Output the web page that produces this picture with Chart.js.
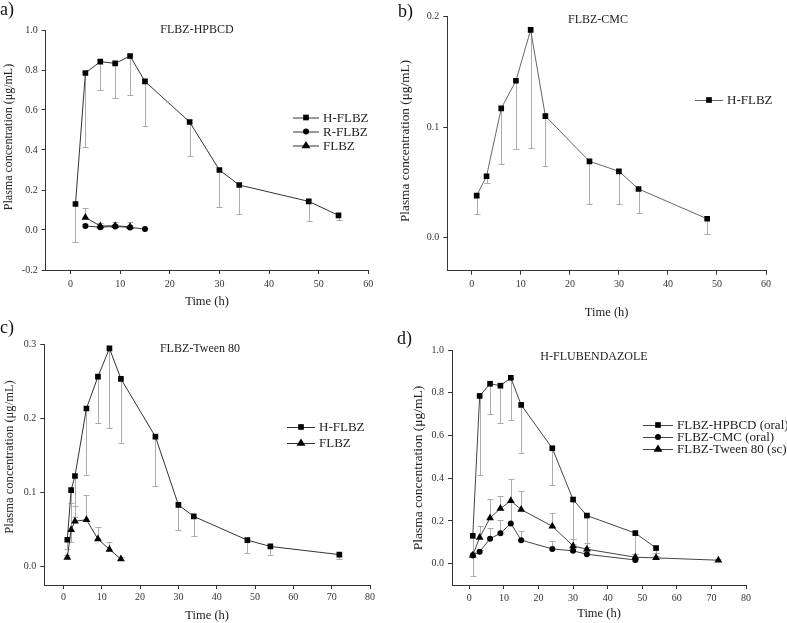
<!DOCTYPE html>
<html>
<head>
<meta charset="utf-8">
<title>Flubendazole plasma concentration</title>
<script src="https://cdn.jsdelivr.net/npm/chart.js@4.4.0/dist/chart.umd.min.js"></script>
<style>
    body { margin: 0; background: #fff; }
    #wrap { position: relative; width: 787px; height: 623px; overflow: hidden; }
    canvas { position: absolute; }
</style>
</head>
<body>
<div id="wrap">
    <canvas id="chart-a" width="393" height="311" style="left:0;top:0"></canvas>
    <canvas id="chart-b" width="394" height="330" style="left:393px;top:0"></canvas>
    <canvas id="chart-c" width="393" height="312" style="left:0;top:311px"></canvas>
    <canvas id="chart-d" width="394" height="312" style="left:393px;top:311px"></canvas>
</div>
<script>
// Tidspunkter og konsentrasjoner (µg/mL), avlest fra figuren
// a) FLBZ-HPBCD
const timesA_H = [1, 3, 6, 9, 12, 15, 24, 30, 34, 48, 54];
const hFlbzA = [0.13, 0.785, 0.842, 0.833, 0.87, 0.743, 0.54, 0.30, 0.225, 0.143, 0.073];
const hFlbzA_sd = [0.19, 0.37, 0.142, 0.173, 0.197, 0.223, 0.17, 0.187, 0.145, 0.098, 0.023];
const timesA_R = [3, 6, 9, 12, 15];
const rFlbzA = [0.02, 0.014, 0.018, 0.013, 0.005];
const rFlbzA_sd = [0.008, 0.01, 0.012, 0.01, 0.003];
const timesA_F = [3, 6, 9, 12];
const flbzA = [0.063, 0.02, 0.021, 0.016];
const flbzA_sd = [0.047, 0.013, 0.021, 0.022];

// b) FLBZ-CMC
const timesB = [1, 3, 6, 9, 12, 15, 24, 30, 34, 48];
const hFlbzB = [0.038, 0.0555, 0.117, 0.142, 0.188, 0.110, 0.069, 0.060, 0.044, 0.017];
const hFlbzB_sd = [0.017, 0.006, 0.05, 0.062, 0.107, 0.045, 0.039, 0.03, 0.022, 0.014];

// c) FLBZ-Tween 80
const timesC_H = [1, 2, 3, 6, 9, 12, 15, 24, 30, 34, 48, 54, 72];
const hFlbzC = [0.036, 0.103, 0.122, 0.213, 0.256, 0.294, 0.253, 0.175, 0.083, 0.0675, 0.0355, 0.027, 0.016];
const hFlbzC_sd = [0.013, 0.07, 0.055, 0.089, 0.062, 0.107, 0.086, 0.067, 0.034, 0.027, 0.017, 0.011, 0.006];
const timesC_F = [1, 2, 3, 6, 9, 12, 15];
const flbzC = [0.012, 0.0495, 0.061, 0.063, 0.037, 0.023, 0.01];
const flbzC_sd = [0.004, 0.036, 0.02, 0.034, 0.016, 0.01, 0.003];

// d) H-FLUBENDAZOLE (Tween uten 2 h-punktet)
const timesD_T = [1, 3, 6, 9, 12, 15, 24, 30, 34, 48, 54, 72];
const tweenD = [0.039, 0.122, 0.214, 0.258, 0.294, 0.253, 0.175, 0.083, 0.0675, 0.03, 0.027, 0.016];
const tweenD_sd = [0.013, 0.055, 0.087, 0.06, 0.104, 0.085, 0.064, 0.034, 0.027, 0.017, 0.011, 0.006];

// Akseinndeling
const xTicks60 = [0, 10, 20, 30, 40, 50, 60];
const xTicks80 = [0, 10, 20, 30, 40, 50, 60, 70, 80];
const yTicksA = [-0.2, 0, 0.2, 0.4, 0.6, 0.8, 1.0];
const yTicksB = [0, 0.1, 0.2];
const yTicksC = [0, 0.1, 0.2, 0.3];
const yTicksD = [0, 0.2, 0.4, 0.6, 0.8, 1.0];

const SERIF = "'Liberation Serif', 'Times New Roman', serif";
const Y_TITLE = 'Plasma concentration (μg/mL)';
Chart.defaults.font.family = SERIF;
Chart.defaults.color = '#222';

function points(xs, ys) {
    return xs.map((x, i) => ({ x: x, y: ys[i] }));
}

function drawMarker(ctx, style, x, y, r) {
    ctx.beginPath();
    if (style === 'rect') {
        const s = r * Math.SQRT1_2;
        ctx.rect(x - s, y - s, 2 * s, 2 * s);
    } else if (style === 'triangle') {
        const h = r * 1.5;
        ctx.moveTo(x, y - r);
        ctx.lineTo(x + h / Math.sqrt(3) * 1.15, y + r * 0.6);
        ctx.lineTo(x - h / Math.sqrt(3) * 1.15, y + r * 0.6);
        ctx.closePath();
    } else {
        ctx.arc(x, y, r, 0, Math.PI * 2);
    }
    ctx.fill();
}

// Feilstolper, bokstav, tittel, y-aksetittel og forklaring
const panelDeco = {
    id: 'panelDeco',
    beforeDatasetsDraw(chart) {
        const ctx = chart.ctx;
        const yScale = chart.scales.y;
        ctx.save();
        ctx.strokeStyle = '#acacac';
        ctx.lineWidth = 1;
        chart.data.datasets.forEach((ds, i) => {
            if (!ds.sd) return;
            const meta = chart.getDatasetMeta(i);
            meta.data.forEach((pt, j) => {
                const yEnd = yScale.getPixelForValue(ds.data[j].y + ds.errDir * ds.sd[j]);
                const x = Math.round(pt.x) + 0.5;
                const ye = Math.round(yEnd) + 0.5;
                ctx.beginPath();
                ctx.moveTo(x, pt.y);
                ctx.lineTo(x, ye);
                ctx.moveTo(x - 3, ye);
                ctx.lineTo(x + 3, ye);
                ctx.stroke();
            });
        });
        ctx.restore();
    },
    afterDraw(chart, args, opts) {
        const ctx = chart.ctx;
        ctx.save();
        ctx.fillStyle = '#111';
        ctx.textBaseline = 'middle';
        ctx.font = '18px ' + SERIF;
        ctx.textAlign = 'left';
        ctx.fillText(opts.letter, opts.letterPos[0], opts.letterPos[1]);

        ctx.font = '12px ' + SERIF;
        ctx.textAlign = 'center';
        ctx.fillStyle = '#222';
        ctx.fillText(opts.title, opts.titlePos[0], opts.titlePos[1]);

        // y-aksetittel, rotert
        ctx.save();
        ctx.translate(opts.yTitlePos[0], opts.yTitlePos[1]);
        ctx.rotate(-Math.PI / 2);
        ctx.font = opts.yTitleSize + 'px ' + SERIF;
        ctx.fillText(Y_TITLE, 0, 0);
        ctx.restore();

        const lg = opts.legend;
        ctx.font = '13px ' + SERIF;
        ctx.textAlign = 'left';
        chart.data.datasets.forEach((ds, i) => {
            const y = lg.y + i * lg.dy;
            ctx.strokeStyle = ds.borderColor;
            ctx.lineWidth = 1;
            ctx.beginPath();
            ctx.moveTo(lg.x, y + 0.5);
            ctx.lineTo(lg.x + lg.w, y + 0.5);
            ctx.stroke();
            ctx.fillStyle = '#000';
            drawMarker(ctx, ds.pointStyle, lg.x + lg.w / 2, y, ds.pointRadius);
            ctx.fillStyle = '#222';
            ctx.fillText(ds.label, lg.x + lg.w + 4, y + 1);
        });
        ctx.restore();
    }
};

function series(label, xs, ys, sd, dir, style, color) {
    const radius = style === 'rect' ? 4 : (style === 'triangle' ? 4.5 : 3);
    return {
        label: label,
        data: points(xs, ys),
        sd: sd,
        errDir: dir,
        borderColor: color,
        borderWidth: 1,
        backgroundColor: '#000',
        pointBackgroundColor: '#000',
        pointBorderColor: '#000',
        pointBorderWidth: 0,
        pointStyle: style,
        pointRadius: radius,
        tension: 0
    };
}

function makePanel(id, cfg) {
    const ctx = document.getElementById(id).getContext('2d');
    return new Chart(ctx, {
        type: 'line',
        data: { datasets: cfg.datasets },
        plugins: [panelDeco],
        options: {
            responsive: false,
            animation: false,
            devicePixelRatio: 1,
            layout: { padding: cfg.padding },
            scales: {
                x: {
                    type: 'linear',
                    min: -5,
                    max: cfg.xMax,
                    afterBuildTicks: (scale) => { scale.ticks = cfg.xTicks.map(v => ({ value: v })); },
                    afterFit: (scale) => { scale.height = cfg.xHeight; },
                    border: { display: true, color: '#333', width: 1 },
                    grid: { display: true, drawOnChartArea: false, drawTicks: true, tickLength: 4, color: '#333' },
                    ticks: { font: { size: 10 }, color: '#333', padding: cfg.xTickPad, maxRotation: 0 },
                    title: { display: true, text: 'Time (h)', font: { size: 12.5 }, color: '#222', padding: { top: 0, bottom: 0 } }
                },
                y: {
                    min: cfg.yMin,
                    max: cfg.yMax,
                    afterBuildTicks: (scale) => { scale.ticks = cfg.yTicks.map(v => ({ value: v })); },
                    afterFit: (scale) => { scale.width = cfg.yWidth; },
                    border: { display: true, color: '#333', width: 1 },
                    grid: { display: true, drawOnChartArea: false, drawTicks: true, tickLength: 4, color: '#333' },
                    ticks: { font: { size: 10 }, color: '#333', padding: 4, callback: (v) => v.toFixed(1) },
                    title: { display: false }
                }
            },
            plugins: {
                legend: { display: false },
                tooltip: { enabled: false },
                panelDeco: cfg.deco
            }
        }
    });
}

// a)
makePanel('chart-a', {
    datasets: [
        series('H-FLBZ', timesA_H, hFlbzA, hFlbzA_sd, -1, 'rect', '#333'),
        series('R-FLBZ', timesA_R, rFlbzA, rFlbzA_sd, 1, 'circle', '#333'),
        series('FLBZ', timesA_F, flbzA, flbzA_sd, 1, 'triangle', '#333')
    ],
    padding: { left: 0, top: 30, right: 24.7, bottom: 2 },
    xMax: 60, xTicks: xTicks60, xHeight: 39, xTickPad: 4,
    yMin: -0.2, yMax: 1.0, yTicks: yTicksA, yWidth: 45.7,
    deco: {
        letter: 'a)', letterPos: [0, 10],
        title: 'FLBZ-HPBCD', titlePos: [197, 30],
        yTitlePos: [9, 137], yTitleSize: 12,
        legend: { x: 293, y: 117.5, dy: 14, w: 26 }
    }
});

// b)
makePanel('chart-b', {
    datasets: [
        series('H-FLBZ', timesB, hFlbzB, hFlbzB_sd, -1, 'rect', '#666')
    ],
    padding: { left: 4, top: 16.7, right: 21, bottom: 10.2 },
    xMax: 60, xTicks: xTicks60, xHeight: 49.1, xTickPad: 4,
    yMin: -0.03, yMax: 0.2, yTicks: yTicksB, yWidth: 50.3,
    deco: {
        letter: 'b)', letterPos: [5, 12],
        title: 'FLBZ-CMC', titlePos: [205, 20],
        yTitlePos: [13, 141], yTitleSize: 13.3,
        legend: { x: 302, y: 100, dy: 14, w: 28 }
    }
});

// c)
makePanel('chart-c', {
    datasets: [
        series('H-FLBZ', timesC_H, hFlbzC, hFlbzC_sd, -1, 'rect', '#333'),
        series('FLBZ', timesC_F, flbzC, flbzC_sd, 1, 'triangle', '#333')
    ],
    padding: { left: 1, top: 33, right: 23, bottom: 0.2 },
    xMax: 80, xTicks: xTicks80, xHeight: 37.8, xTickPad: 2,
    yMin: -0.025, yMax: 0.3, yTicks: yTicksC, yWidth: 43.3,
    deco: {
        letter: 'c)', letterPos: [0, 17],
        title: 'FLBZ-Tween 80', titlePos: [200, 38],
        yTitlePos: [10, 146], yTitleSize: 12.6,
        legend: { x: 287, y: 116, dy: 16, w: 28 }
    }
});

// d)
makePanel('chart-d', {
    datasets: [
        series('FLBZ-HPBCD (oral)', timesA_H, hFlbzA, hFlbzA_sd, -1, 'rect', '#444'),
        series('FLBZ-CMC (oral)', timesB, hFlbzB, hFlbzB_sd, 1, 'circle', '#444'),
        series('FLBZ-Tween 80 (sc)', timesD_T, tweenD, tweenD_sd, 1, 'triangle', '#444')
    ],
    padding: { left: 16, top: 39, right: 41, bottom: 2.2 },
    xMax: 80, xTicks: xTicks80, xHeight: 35.8, xTickPad: 3,
    yMin: -0.1, yMax: 1.0, yTicks: yTicksD, yWidth: 43,
    deco: {
        letter: 'd)', letterPos: [4, 28],
        title: 'H-FLUBENDAZOLE', titlePos: [201, 46],
        yTitlePos: [25, 157], yTitleSize: 13.5,
        legend: { x: 250, y: 114, dy: 12, w: 30 }
    }
});
</script>
</body>
</html>
